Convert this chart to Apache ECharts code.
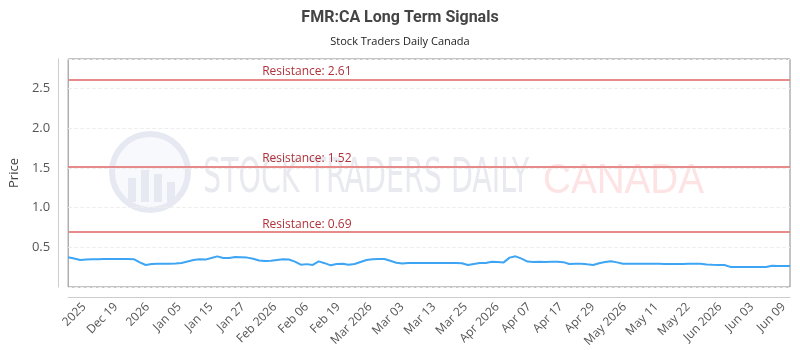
<!DOCTYPE html>
<html>
<head>
<meta charset="utf-8">
<script src="https://cdn.jsdelivr.net/npm/echarts@6/dist/echarts.min.js"></script>
<style>
  html, body { margin: 0; padding: 0; background: #fff; }
  #chart { width: 800px; height: 350px; }
</style>
</head>
<body>
<div id="chart"></div>
<script>
// tick labels shown under the chart
var tickLabels = ['2025', 'Dec 19', '2026', 'Jan 05', 'Jan 15', 'Jan 27', 'Feb 2026', 'Feb 06',
  'Feb 19', 'Mar 2026', 'Mar 03', 'Mar 13', 'Mar 25', 'Apr 2026', 'Apr 07', 'Apr 17', 'Apr 29',
  'May 2026', 'May 11', 'May 22', 'Jun 2026', 'Jun 03', 'Jun 09'];

// closing prices, one per trading day
var prices = [
  0.374, 0.360, 0.340, 0.345, 0.350, 0.350, 0.352, 0.353, 0.353, 0.353,
  0.353, 0.350, 0.310, 0.277, 0.290, 0.293, 0.293, 0.293, 0.295, 0.303,
  0.320, 0.340, 0.349, 0.345, 0.365, 0.386, 0.365, 0.365, 0.378, 0.375,
  0.370, 0.355, 0.333, 0.327, 0.331, 0.340, 0.348, 0.346, 0.320, 0.281,
  0.288, 0.278, 0.323, 0.300, 0.273, 0.290, 0.293, 0.280, 0.290, 0.315,
  0.340, 0.350, 0.353, 0.352, 0.330, 0.305, 0.295, 0.302, 0.302, 0.302,
  0.302, 0.303, 0.303, 0.302, 0.302, 0.302, 0.300, 0.277, 0.290, 0.302,
  0.303, 0.317, 0.315, 0.310, 0.370, 0.386, 0.358, 0.320, 0.316, 0.318,
  0.316, 0.319, 0.318, 0.313, 0.290, 0.292, 0.293, 0.285, 0.278, 0.300,
  0.315, 0.325, 0.310, 0.293, 0.293, 0.293, 0.293, 0.293, 0.292, 0.292,
  0.291, 0.290, 0.290, 0.291, 0.292, 0.293, 0.293, 0.284, 0.280, 0.278,
  0.277, 0.253, 0.252, 0.252, 0.252, 0.252, 0.252, 0.252, 0.267, 0.266,
  0.265, 0.264
];

var resistance = [2.61, 1.52, 0.69];

// trading-day categories for the price line
var days = [];
(function () {
  var d = new Date(2025, 11, 10);
  while (days.length < prices.length) {
    if (d.getDay() !== 0 && d.getDay() !== 6) {
      days.push((d.getMonth() + 1) + '/' + d.getDate() + '/' + d.getFullYear());
    }
    d.setDate(d.getDate() + 1);
  }
})();

var myChart = echarts.init(document.getElementById('chart'));

var option = {
  animation: false,
  title: {
    text: 'FMR:CA Long Term Signals',
    subtext: 'Stock Traders Daily Canada',
    left: 'center',
    top: 5,
    itemGap: 10,
    textStyle: { color: '#444', fontSize: 16, fontWeight: 'bold', fontFamily: 'Roboto' },
    subtextStyle: { color: '#222', fontSize: 11, fontFamily: 'Open Sans' }
  },
  graphic: [
    { type: 'circle', shape: { cx: 150, cy: 172, r: 38 }, style: { fill: '#f8f9fc', stroke: '#e6e9f2', lineWidth: 6 }, silent: true, z: 0 },
    { type: 'rect', shape: { x: 128, y: 178, width: 8, height: 24 }, style: { fill: '#e6e9f2' }, silent: true, z: 0 },
    { type: 'rect', shape: { x: 141, y: 170, width: 8, height: 32 }, style: { fill: '#e6e9f2' }, silent: true, z: 0 },
    { type: 'rect', shape: { x: 154, y: 174, width: 8, height: 28 }, style: { fill: '#e6e9f2' }, silent: true, z: 0 },
    { type: 'rect', shape: { x: 167, y: 182, width: 8, height: 20 }, style: { fill: '#e6e9f2' }, silent: true, z: 0 },
    { type: 'text', x: 203, y: 156, scaleX: 0.66, silent: true, z: 0,
      style: { text: 'STOCK TRADERS DAILY', fill: '#e8eaf0', font: '48px "DejaVu Sans Condensed", sans-serif' } },
    { type: 'text', x: 543, y: 160, scaleX: 0.92, silent: true, z: 0,
      style: { text: 'CANADA', fill: '#fde3e3', font: '42px "Liberation Sans", sans-serif' } }
  ],
  grid: {
    left: 63,
    right: 10,
    top: 59,
    bottom: 63,
    show: true,
    borderColor: '#888',
    borderWidth: 1
  },
  xAxis: [
    {
      type: 'category',
      data: days,
      boundaryGap: false,
      show: false
    },
    {
      type: 'value',
      position: 'bottom',
      offset: 10,
      min: -0.5,
      max: 22.2,
      interval: 0.5,
      axisLine: { show: true, onZero: false, lineStyle: { color: '#ccc' } },
      axisTick: { show: false },
      splitLine: { show: false },
      axisLabel: {
        rotate: 45,
        color: '#555',
        fontSize: 12,
        fontFamily: 'Open Sans',
        formatter: function (v) {
          return Number.isInteger(v) && tickLabels[v] ? tickLabels[v] : '';
        }
      }
    }
  ],
  yAxis: {
    type: 'value',
    min: 0,
    max: 2.871,
    interval: 0.5,
    offset: 10,
    name: 'Price',
    nameLocation: 'middle',
    nameGap: 36,
    nameTextStyle: { color: '#444', fontSize: 13, fontFamily: 'Open Sans' },
    axisLine: { show: true, onZero: false, lineStyle: { color: '#ccc' } },
    axisTick: { show: false },
    axisLabel: {
      color: '#555',
      fontSize: 13,
      fontFamily: 'Open Sans',
      showMinLabel: false,
      showMaxLabel: false,
      formatter: function (v) { return v.toFixed(1); }
    },
    splitLine: { lineStyle: { color: '#eee', type: 'dashed' } }
  },
  series: [
    {
      name: 'Price',
      type: 'line',
      xAxisIndex: 0,
      data: prices,
      showSymbol: false,
      lineStyle: { color: '#3da5f4', width: 2 },
      itemStyle: { color: '#3da5f4' },
      z: 3,
      markLine: {
        silent: true,
        symbol: 'none',
        lineStyle: { color: '#e68a8a', width: 2, type: 'solid' },
        label: {
          position: 'insideStartTop',
          distance: [194, 2],
          color: '#b0323a',
          fontSize: 12,
          fontFamily: 'Open Sans',
          formatter: 'Resistance: {c}'
        },
        data: resistance.map(function (r) { return { yAxis: r }; })
      }
    }
  ]
};

myChart.setOption(option);
window.addEventListener('resize', myChart.resize);
</script>
</body>
</html>
